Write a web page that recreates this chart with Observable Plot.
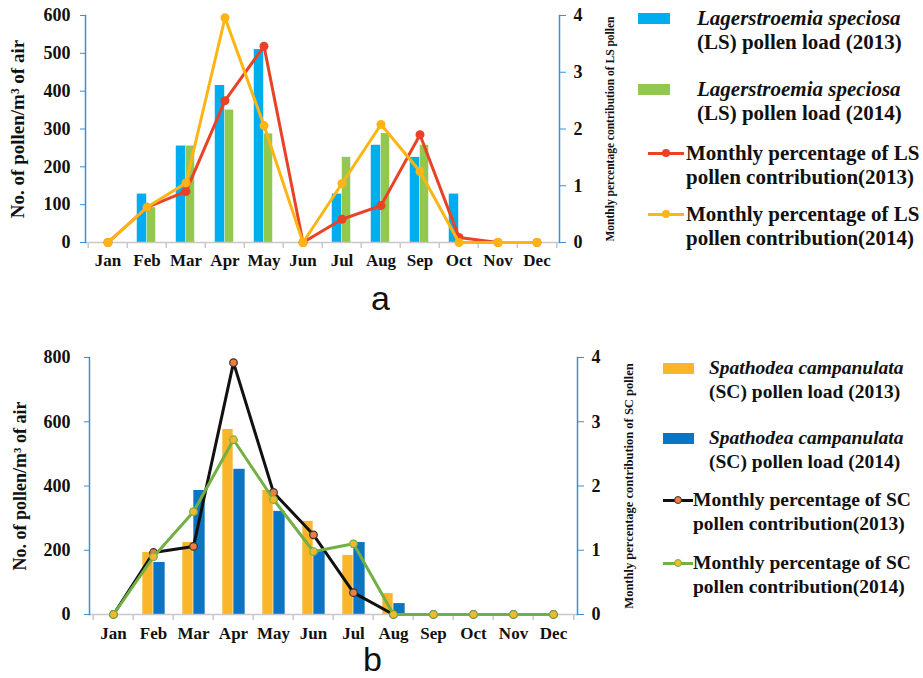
<!DOCTYPE html>
<html><head><meta charset="utf-8">
<script src="https://cdn.jsdelivr.net/npm/d3@7"></script>
<script src="https://cdn.jsdelivr.net/npm/@observablehq/plot@0.6"></script>
<style>
body{margin:0;background:#fff;width:923px;height:678px;position:relative;overflow:hidden;font-family:"Liberation Serif",serif;}
.pane{position:absolute;left:0;}
.leg{position:absolute;font-family:"Liberation Serif",serif;font-weight:bold;font-size:21px;line-height:24px;color:#111;white-space:nowrap;}
.legb{font-size:19.5px;}
.sw{position:absolute;}
.lbl{position:absolute;font-family:"Liberation Sans",Arial,sans-serif;font-size:34px;color:#111;}
</style></head>
<body>
<div id="pa" class="pane" style="top:0"></div>
<div id="pb" class="pane" style="top:340px"></div>
<div class="lbl" style="left:371px;top:279px">a</div>
<div class="lbl" style="left:363px;top:640px">b</div>
<div id="legends"></div>
<script>
const months = ["Jan","Feb","Mar","Apr","May","Jun","Jul","Aug","Sep","Oct","Nov","Dec"];
// Panel a: Lagerstroemia speciosa
const lsLoad2013 = [0,128,255,415,510,0,128,257,225,128,0,0];
const lsLoad2014 = [0,92,255,350,287,0,225,288,257,0,0,0];
const lsPct2013 = [0,0.62,0.9,2.5,3.46,0,0.41,0.65,1.9,0.09,0,0];
const lsPct2014 = [0,0.62,1.05,3.96,2.06,0,1.04,2.08,1.25,0,0,0];
// Panel b: Spathodea campanulata
const scLoad2013 = [0,193,224,576,386,290,184,65,0,0,0,0];
const scLoad2014 = [0,162,386,452,321,200,224,34,0,0,0,0];
const scPct2013 = [0,0.965,1.06,3.92,1.9,1.24,0.34,0,0,0,0,0];
const scPct2014 = [0,0.9,1.6,2.72,1.79,0.98,1.1,0,0,0,0,0];
const leftTicksA = [0,100,200,300,400,500,600];
const rightTicks = [0,1,2,3,4];
const leftTicksB = [0,200,400,600,800];

const axisBlue = "#3a8fd9";

function panel(cfg){
  const W = 640;
  const bw = (W - cfg.ml - cfg.mr)/12;
  const k = cfg.ymax/4;
  const rows = months.map((m,i)=>({m, b1:cfg.b1[i], b2:cfg.b2[i], p1:cfg.p1[i]*k, p2:cfg.p2[i]*k}));
  const half = bw/2;
  return Plot.plot({
    width: W, height: cfg.h,
    marginLeft: cfg.ml, marginRight: cfg.mr, marginTop: cfg.mt, marginBottom: cfg.mb,
    style:{fontFamily:"Liberation Serif, serif", fontWeight:"bold", fontSize:"18px", color:"#111", background:"#fff", overflow:"visible"},
    x:{domain: months, padding:0, type:"band"},
    y:{domain:[0,cfg.ymax]},
    marks:[
      Plot.barY(rows,{x:"m", y:"b1", fill:cfg.c1, insetLeft: half-cfg.w1, insetRight: half}),
      Plot.barY(rows,{x:"m", y:"b2", fill:cfg.c2, insetLeft: half, insetRight: half-cfg.w2}),
      Plot.ruleY([0],{stroke:"#c8c8c8", strokeWidth:1.5}),
      Plot.ruleX(months,{x:d=>d, y1:0, y2:0, dx:-half, insetBottom:-6, stroke:"#c8c8c8", strokeWidth:1.5}),
      Plot.ruleX(["Dec"],{x:d=>d, y1:0, y2:0, dx:half, insetBottom:-6, stroke:"#c8c8c8", strokeWidth:1.5}),
      Plot.lineY(rows,{x:"m", y:"p1", stroke:cfg.l1, strokeWidth:3}),
      Plot.dot(rows,{x:"m", y:"p1", fill:cfg.d1, stroke:cfg.ds1, strokeWidth:cfg.dsw, r:cfg.r}),
      Plot.lineY(rows,{x:"m", y:"p2", stroke:cfg.l2, strokeWidth:3}),
      Plot.dot(rows,{x:"m", y:"p2", fill:cfg.d2, stroke:cfg.ds2, strokeWidth:cfg.dsw, r:cfg.r}),
      Plot.frame({anchor:"left", stroke:axisBlue, strokeWidth:1.5}),
      Plot.frame({anchor:"right", stroke:axisBlue, strokeWidth:1.5}),
      Plot.axisY({anchor:"left", ticks:cfg.leftTicks, tickSize:5, tickPadding:cfg.ltp, stroke:axisBlue, label:null, fontSize:18, fontWeight:"bold"}),
      Plot.axisY({anchor:"right", ticks:rightTicks.map(v=>v*k), tickFormat:d=>d/k, tickSize:6, tickPadding:8, stroke:axisBlue, label:null, fontSize:18, fontWeight:"bold"}),
      Plot.axisX({tickSize:0, tickPadding:cfg.xtp, label:null, fontSize:17, fontWeight:"bold"}),
      Plot.text([cfg.ltitle],{frameAnchor:"left", textAnchor:"middle", dx:cfg.ltx - cfg.ml, rotate:-90, fontSize:cfg.lfs, text:d=>d}),
      Plot.text([cfg.rtitle],{frameAnchor:"right", textAnchor:"middle", dx:cfg.rtx - (W-cfg.mr), rotate:-90, fontSize:cfg.rfs, text:d=>d})
    ]
  });
}

document.getElementById("pa").append(panel({
  h:275, ml:85, mr:81, mt:15, mb:33, ymax:600, leftTicks:leftTicksA, ltp:10, xtp:11,
  b1:lsLoad2013, b2:lsLoad2014, p1:lsPct2013, p2:lsPct2014,
  c1:"#00aeef", c2:"#92c850", w1:10, w2:9,
  l1:"#ea4227", d1:"#ea4227", ds1:"none", l2:"#fdb515", d2:"#fdb515", ds2:"none", dsw:0, r:4.5,
  ltitle:"No. of pollen/m³ of air", ltx:17, lfs:19, rtitle:"Monthly percentage contribution of LS pollen", rtx:610, rfs:11.5
}));
document.getElementById("pb").append(panel({
  h:310, ml:89, mr:63, mt:17, mb:36, ymax:800, leftTicks:leftTicksB, ltp:14, xtp:12,
  b1:scLoad2013, b2:scLoad2014, p1:scPct2013, p2:scPct2014,
  c1:"#fbb52a", c2:"#0b75c4", w1:11, w2:12,
  l1:"#111111", d1:"#f07f3c", ds1:"#333", l2:"#72b043", d2:"#f4b830", ds2:"#72b043", dsw:1.2, r:3.8,
  ltitle:"No. of pollen/m³ of air", ltx:20, lfs:18, rtitle:"Monthly percentage contribution of SC pollen", rtx:628, rfs:12.5
}));

// Legends
const legA = [
  {type:"bar", color:"#00aeef", l1:"Lagerstroemia speciosa", l2:"(LS) pollen load (2013)", y:18},
  {type:"bar", color:"#92c850", l1:"Lagerstroemia speciosa", l2:"(LS) pollen load (2014)", y:89},
  {type:"line", color:"#ea4227", dot:"#ea4227", ds:"none", l1:"Monthly percentage of LS", l2:"pollen contribution(2013)", y:153},
  {type:"line", color:"#fdb515", dot:"#fdb515", ds:"none", l1:"Monthly percentage of LS", l2:"pollen contribution(2014)", y:214}
];
const legB = [
  {type:"bar", color:"#fbb52a", l1:"Spathodea campanulata", l2:"(SC) pollen load (2013)", y:368},
  {type:"bar", color:"#0b75c4", l1:"Spathodea campanulata", l2:"(SC) pollen load (2014)", y:438},
  {type:"line", color:"#111111", dot:"#f07f3c", ds:"#333", l1:"Monthly percentage of SC", l2:"pollen contribution(2013)", y:500},
  {type:"line", color:"#72b043", dot:"#f4b830", ds:"#72b043", l1:"Monthly percentage of SC", l2:"pollen contribution(2014)", y:563}
];
const host = document.getElementById("legends");
function addLeg(items, barX, barW, textX, lineX, lineW, lineTextX, cls){
  items.forEach(it=>{
    if(it.type==="bar"){
      const s=document.createElement("div");s.className="sw";
      s.style.cssText=`left:${barX}px;top:${it.y-5}px;width:${barW}px;height:11px;background:${it.color}`;
      host.append(s);
      const t=document.createElement("div");t.className="leg "+cls;
      t.style.cssText=`left:${textX}px;top:${it.y-12}px`;
      t.innerHTML=`<i>${it.l1}</i><br>${it.l2}`;
      host.append(t);
    } else {
      const s=document.createElement("div");s.className="sw";
      s.style.cssText=`left:${lineX}px;top:${it.y-1.5}px;width:${lineW}px;height:3px;background:${it.color}`;
      host.append(s);
      const d=document.createElement("div");d.className="sw";
      const bd = it.ds==="none"?"none":`1px solid ${it.ds}`;
      d.style.cssText=`left:${lineX+lineW/2-4}px;top:${it.y-4}px;width:8px;height:8px;border-radius:50%;background:${it.dot};border:${bd};box-sizing:border-box`;
      host.append(d);
      const t=document.createElement("div");t.className="leg "+cls;
      t.style.cssText=`left:${lineTextX}px;top:${it.y-12}px`;
      t.innerHTML=`${it.l1}<br>${it.l2}`;
      host.append(t);
    }
  });
}
addLeg(legA, 638, 32, 697, 648, 36, 686, "");
addLeg(legB, 663, 31, 709, 663, 30, 693, "legb");
</script>
</body></html>
